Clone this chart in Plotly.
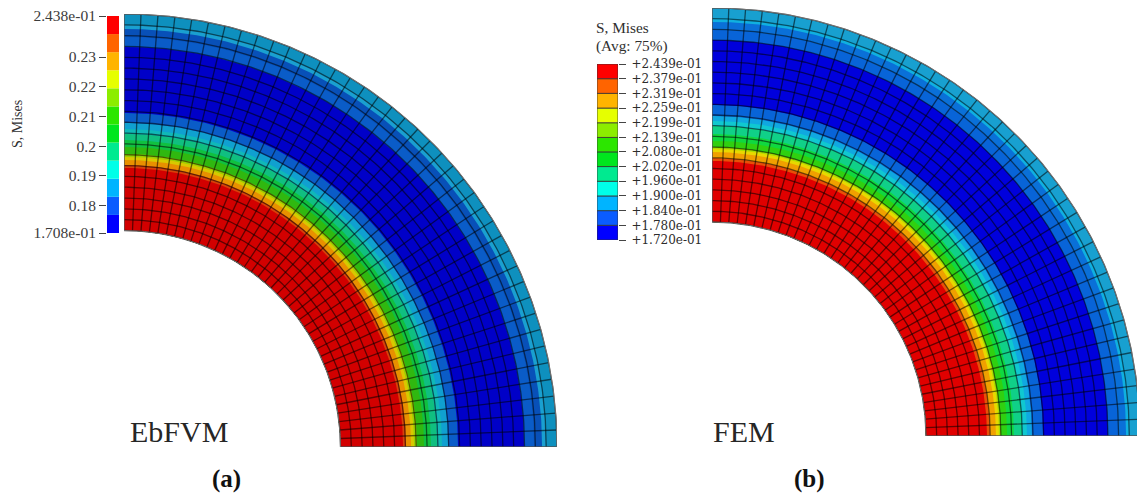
import numpy as np
import plotly.graph_objects as go

W, H = 1137, 496

# Radial stress bands: outer edge of each band, inner radius = 1, outer radius = 2
left_edges = [1.289, 1.303, 1.326, 1.340, 1.353, 1.386, 1.418, 1.446, 1.469, 1.497, 1.543, 1.848, 1.894, 1.931, 1.949, 2.0]
left_colors = ["#d20000", "#d8400a", "#e89000", "#d8c800", "#9ccf00", "#30b810", "#10c040", "#10bf80", "#10b8b8",
               "#10a0d0", "#0a5cc8", "#0000c8", "#0a5cc8", "#0850b8", "#1aa0d0", "#0e90be"]
right_edges = [1.285, 1.299, 1.327, 1.341, 1.350, 1.379, 1.411, 1.449, 1.472, 1.495, 1.547, 1.850, 1.897, 1.935, 1.953, 2.0]
right_colors = ["#e00000", "#e85008", "#f0a000", "#e8d800", "#a8e000", "#30d010", "#10d840", "#10d088", "#10c8d0",
                "#10a8e0", "#0864d8", "#0000dc", "#0864d8", "#0a70d8", "#10b0e0", "#18a0d0"]

# Legends
left_levels = [0.1708, 0.17688, 0.18297, 0.18905, 0.19513, 0.20122, 0.2073, 0.21338, 0.21947, 0.22555, 0.23163, 0.23772, 0.2438]
left_tickvals = [0.1708, 0.18, 0.19, 0.20, 0.21, 0.22, 0.23, 0.2438]
left_ticktext = ["1.708e-01", "0.18", "0.19", "0.2", "0.21", "0.22", "0.23", "2.438e-01"]
right_levels = [0.1720, 0.1780, 0.1840, 0.1900, 0.1960, 0.2020, 0.2080, 0.2139, 0.2199, 0.2259, 0.2319, 0.2379, 0.2439]
right_ticktext = ["+1.720e-01", "+1.780e-01", "+1.840e-01", "+1.900e-01", "+1.960e-01", "+2.020e-01", "+2.080e-01",
                  "+2.139e-01", "+2.199e-01", "+2.259e-01", "+2.319e-01", "+2.379e-01", "+2.439e-01"]
legend_colors = ["#0000ff", "#0a5cff", "#00b4ff", "#00ffe8", "#00ea90", "#00e61e", "#2ce600", "#8ced00",
                 "#e6ff00", "#ffb400", "#ff6400", "#ff0000"]

n_radial, n_around = 20, 40
SERIF = "Liberation Serif"
MESH = "rgba(0,0,0,0.55)"
EDGE = "#707070"


def sector(r, ri=1.0):
    t = np.linspace(0, np.pi / 2, 181)
    xs = np.r_[r * np.cos(t), ri * np.cos(t[::-1]), r]
    ys = np.r_[r * np.sin(t), ri * np.sin(t[::-1]), 0]
    return xs, ys


def mesh():
    xs, ys = [], []
    t = np.linspace(0, np.pi / 2, 181)
    for r in np.linspace(1, 2, n_radial + 1):
        xs += list(r * np.cos(t)) + [None]
        ys += list(r * np.sin(t)) + [None]
    for a in np.linspace(0, np.pi / 2, n_around + 1):
        xs += [np.cos(a), 2 * np.cos(a), None]
        ys += [np.sin(a), 2 * np.sin(a), None]
    return xs, ys


def dom_x(a, b):
    return [a / W, b / W]


def dom_y(top, bottom):
    return [(H - bottom) / H, (H - top) / H]


fig = go.Figure()


def add_panel(edges, colors, xa, ya):
    for r, c in sorted(zip(edges, colors), reverse=True):
        xs, ys = sector(r)
        fig.add_trace(go.Scatter(x=xs, y=ys, mode="lines", fill="toself", fillcolor=c,
                                 line=dict(width=0, color=c), xaxis=xa, yaxis=ya, hoverinfo="skip"))
    mx, my = mesh()
    fig.add_trace(go.Scatter(x=mx, y=my, mode="lines", line=dict(color=MESH, width=1.3),
                             xaxis=xa, yaxis=ya, hoverinfo="skip"))
    ox, oy = sector(2.0)
    fig.add_trace(go.Scatter(x=ox, y=oy, mode="lines", line=dict(color=EDGE, width=1),
                             xaxis=xa, yaxis=ya, hoverinfo="skip"))


def add_legend(levels, line, xa, ya):
    lv = np.array(levels)
    fig.add_trace(go.Bar(x=[0] * 12, y=lv[1:] - lv[:-1], base=lv[:-1], width=1,
                         marker=dict(color=legend_colors, line=dict(color=line, width=0.8 if line != "rgba(0,0,0,0)" else 0)),
                         xaxis=xa, yaxis=ya, hoverinfo="skip"))


add_panel(left_edges, left_colors, "x", "y")
add_panel(right_edges, right_colors, "x2", "y2")
add_legend(left_levels, "rgba(0,0,0,0)", "x3", "y3")
add_legend(right_levels, "#333333", "x4", "y4")

hidden = dict(visible=False, showgrid=False, zeroline=False, automargin=False)
fig.update_layout(
    template="none",
    width=W, height=H, margin=dict(l=0, r=0, t=0, b=0, pad=0), autosize=False,
    paper_bgcolor="white", plot_bgcolor="rgba(0,0,0,0)", showlegend=False, barmode="overlay",
    xaxis=dict(hidden, domain=dom_x(124, 124 + 433), range=[0, 2], anchor="y"),
    yaxis=dict(hidden, domain=dom_y(14, 447), range=[0, 2], anchor="x"),
    xaxis2=dict(hidden, domain=dom_x(712, W), range=[0, (W - 712) / 214], anchor="y2"),
    yaxis2=dict(hidden, domain=dom_y(8, 436), range=[0, 2], anchor="x2"),
    xaxis3=dict(hidden, domain=dom_x(107, 119), range=[-0.5, 0.5], anchor="y3"),
    yaxis3=dict(domain=dom_y(16, 233), range=[left_levels[0], left_levels[-1]], anchor="x3", side="left",
                tickmode="array", tickvals=left_tickvals, ticktext=left_ticktext, ticks="outside", ticklen=7,
                ticklabeloverflow="allow",
                tickcolor="#444444", tickwidth=1, showgrid=False, zeroline=False, showline=False, automargin=False,
                tickfont=dict(family=SERIF, size=15.5, color="#3c3c3c")),
    xaxis4=dict(hidden, domain=dom_x(597, 618), range=[-0.5, 0.5], anchor="y4"),
    yaxis4=dict(domain=dom_y(64, 240), range=[right_levels[0], right_levels[-1]], anchor="x4", side="right",
                tickmode="array", tickvals=right_levels, ticktext=right_ticktext, ticks="outside", ticklen=7,
                ticklabelstandoff=3, ticklabeloverflow="allow",
                tickcolor="#444444", tickwidth=1, showgrid=False, zeroline=False, showline=False, automargin=False,
                tickfont=dict(family="DejaVu Serif", size=12, color="#2c2c2c")),
)


def label(text, x, y, size, color="#303030", xanchor="left", angle=0):
    fig.add_annotation(text=text, x=x / W, y=(H - y) / H, xref="paper", yref="paper", showarrow=False,
                       xanchor=xanchor, yanchor="middle", textangle=angle, borderpad=0, borderwidth=0,
                       font=dict(family=SERIF, size=size, color=color))


label("S, Mises", 17, 124, 14, xanchor="center", angle=-90)
label("S, Mises", 596, 28, 15.3)
label("(Avg: 75%)", 596, 46, 15.3)
label("EbFVM", 130, 431, 30, color="#262626")
label("FEM", 713, 431, 30, color="#262626")
label("<b>(a)</b>", 226, 479, 25, color="#111111", xanchor="center")
label("<b>(b)</b>", 809, 479, 25, color="#111111", xanchor="center")

# The page's default body margin would push the figure out of the window
fig.write_html("out.html", config=dict(displayModeBar=False),
               default_width=f"{W}px", default_height=f"{H}px",
               post_script="document.body.style.margin = '0';")
